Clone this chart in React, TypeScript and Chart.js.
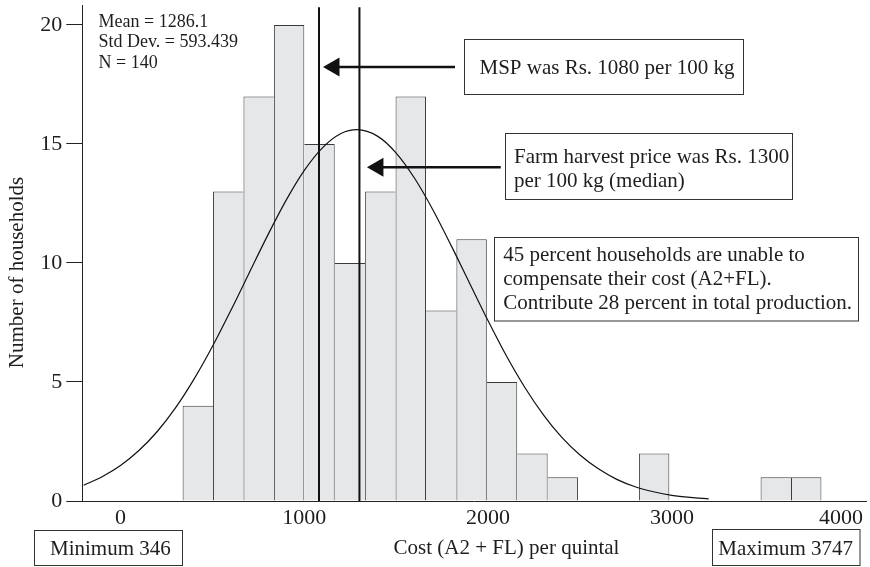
import React, { useEffect, useRef } from 'react';
import { Chart, registerables } from 'chart.js';

Chart.register(...registerables);

// ---- Data ----
const binCenters = [420.75, 586.25, 751.75, 917.25, 1082.75, 1248.25, 1413.75, 1579.25, 1744.75, 1910.25, 2075.75, 2241.25, 2406.75, 2572.25, 2737.75, 2903.25, 3068.75, 3234.25, 3399.75, 3565.25, 3730.75];
const binCounts = [4, 13, 17, 20, 15, 10, 13, 17, 8, 11, 5, 2, 1, 0, 0, 2, 0, 0, 0, 1, 1];

const curveX = [-200, -100, 0, 100, 200, 300, 400, 500, 600, 700, 800, 900, 1000, 1100, 1200, 1286, 1400, 1500, 1600, 1700, 1800, 1900, 2000, 2100, 2200, 2300, 2400, 2500, 2600, 2700, 2800, 2900, 3000, 3100, 3200];
const curveY = [0.66, 1.02, 1.49, 2.12, 2.92, 3.92, 5.12, 6.49, 8.0, 9.58, 11.15, 12.62, 13.89, 14.85, 15.44, 15.6, 15.32, 14.62, 13.56, 12.23, 10.72, 9.14, 7.57, 6.09, 4.77, 3.63, 2.68, 1.93, 1.35, 0.91, 0.6, 0.39, 0.24, 0.15, 0.09];

const mspPrice = 1080;
const harvestPrice = 1300;

const xTicks = [0, 1000, 2000, 3000, 4000];
const yTicks = [0, 5, 10, 15, 20];

const statsLines = ['Mean = 1286.1', 'Std Dev. = 593.439', 'N = 140'];
const mspText = ['MSP was Rs. 1080 per 100 kg'];
const harvestText = ['Farm harvest price was Rs. 1300', 'per 100 kg (median)'];
const noteText = ['45 percent households are unable to', 'compensate their cost (A2+FL).', 'Contribute 28 percent in total production.'];
const minText = 'Minimum 346';
const maxText = 'Maximum 3747';
const xTitle = 'Cost (A2 + FL) per quintal';
const yTitle = 'Number of households';

const FONT = '"Liberation Serif", "Times New Roman", serif';
const TEXT = '#1e1e1e';
const LINE = '#111111';

const annotPlugin = {
  id: 'annot',
  afterDraw(chart: any) {
    const ctx = chart.ctx as CanvasRenderingContext2D;
    const xs = chart.scales.x;
    ctx.save();

    // stats text
    ctx.fillStyle = TEXT;
    ctx.textBaseline = 'alphabetic';
    ctx.textAlign = 'left';
    ctx.font = `18px ${FONT}`;
    statsLines.forEach((t, i) => ctx.fillText(t, 98.5, 26.5 + i * 20.5));

    const box = (x: number, y: number, w: number, h: number) => {
      ctx.fillStyle = '#ffffff';
      ctx.fillRect(x, y, w, h);
      ctx.strokeStyle = '#333333';
      ctx.lineWidth = 1;
      ctx.strokeRect(x, y, w, h);
    };
    const lines = (arr: string[], x: number, y0: number, dy: number) => {
      ctx.fillStyle = TEXT;
      ctx.font = `21px ${FONT}`;
      ctx.textAlign = 'left';
      ctx.textBaseline = 'alphabetic';
      arr.forEach((t, i) => ctx.fillText(t, x, y0 + i * dy));
    };
    const arrow = (tipX: number, y: number, tailX: number) => {
      ctx.strokeStyle = LINE;
      ctx.fillStyle = LINE;
      ctx.lineWidth = 2.5;
      ctx.beginPath();
      ctx.moveTo(tailX, y);
      ctx.lineTo(tipX + 12, y);
      ctx.stroke();
      ctx.beginPath();
      ctx.moveTo(tipX, y);
      ctx.lineTo(tipX + 16.5, y - 9.5);
      ctx.lineTo(tipX + 16.5, y + 9.5);
      ctx.closePath();
      ctx.fill();
    };

    // MSP box + arrow
    box(464.5, 39.5, 279, 55);
    lines(mspText, 479.5, 74, 24);
    arrow(xs.getPixelForValue(mspPrice) + 4, 67, 455);

    // Harvest price box + arrow
    box(505.5, 133.5, 287, 66);
    lines(harvestText, 514, 162.7, 23.8);
    arrow(xs.getPixelForValue(harvestPrice) + 7.5, 167.3, 500.7);

    // Note box
    box(494.5, 237.5, 364, 83.5);
    lines(noteText, 503.3, 260.5, 24);

    // Min / Max boxes
    box(34.5, 530.5, 148, 35);
    lines([minText], 50, 555, 0);
    box(712.5, 529.5, 147.5, 36);
    lines([maxText], 718.3, 555, 0);

    // x axis title
    ctx.fillStyle = TEXT;
    ctx.font = `21px ${FONT}`;
    ctx.textAlign = 'center';
    ctx.textBaseline = 'alphabetic';
    ctx.fillText(xTitle, 506.5, 554);

    // last x tick label, kept inside the canvas
    ctx.font = `22px ${FONT}`;
    ctx.textAlign = 'right';
    ctx.textBaseline = 'middle';
    const lastX = xs.getPixelForValue(xTicks[xTicks.length - 1]);
    const w = ctx.measureText(String(xTicks[xTicks.length - 1])).width;
    ctx.fillText(String(xTicks[xTicks.length - 1]), Math.min(lastX + w / 2, 863), 518.2);

    // y axis title
    ctx.save();
    ctx.translate(17.5, 272.5);
    ctx.rotate(-Math.PI / 2);
    ctx.font = `21px ${FONT}`;
    ctx.textAlign = 'center';
    ctx.textBaseline = 'middle';
    ctx.fillStyle = TEXT;
    ctx.fillText(yTitle, 0, 0);
    ctx.restore();

    ctx.restore();
  },
};

export default function App() {
  const ref = useRef<HTMLCanvasElement>(null);

  useEffect(() => {
    const canvas = ref.current;
    if (!canvas) return;
    Chart.defaults.font.family = FONT;
    Chart.defaults.color = TEXT;

    const yTop = 20.75;
    const chart = new Chart(canvas, {
      type: 'bar',
      data: {
        datasets: [
          {
            type: 'line',
            data: [{ x: mspPrice, y: 0 }, { x: mspPrice, y: yTop }],
            borderColor: LINE,
            borderWidth: 2,
            pointRadius: 0,
            order: 1,
          } as any,
          {
            type: 'line',
            data: [{ x: harvestPrice, y: 0 }, { x: harvestPrice, y: yTop }],
            borderColor: LINE,
            borderWidth: 2,
            pointRadius: 0,
            order: 1,
          } as any,
          {
            type: 'line',
            data: curveX.map((x, i) => ({ x, y: curveY[i] })),
            borderColor: LINE,
            borderWidth: 1.2,
            pointRadius: 0,
            cubicInterpolationMode: 'monotone',
            order: 1,
          } as any,
          {
            type: 'bar',
            data: binCenters.map((x, i) => ({ x, y: binCounts[i] })),
            backgroundColor: '#e6e7e9',
            borderColor: '#3a3a3a',
            borderWidth: (c: any) => {
              const i = c.dataIndex;
              if (i === undefined) return 1;
              const v = binCounts[i];
              const prev = i > 0 ? binCounts[i - 1] : 0;
              const next = i < binCounts.length - 1 ? binCounts[i + 1] : 0;
              return { top: 1, left: prev <= v ? 1 : 0, right: next < v ? 1 : 0, bottom: 0 };
            },
            barPercentage: 1,
            categoryPercentage: 1,
            inflateAmount: 0,
            order: 2,
          } as any,
        ],
      },
      options: {
        animation: false,
        responsive: false,
        events: [],
        layout: { padding: { top: 5, right: 3.3, left: 0, bottom: 0 } },
        plugins: { legend: { display: false }, tooltip: { enabled: false } },
        scales: {
          x: {
            type: 'linear',
            min: -207.8,
            max: 4059.8,
            offset: false,
            grid: { display: false, drawTicks: false },
            border: { display: true, color: '#222222', width: 1 },
            ticks: {
              font: { size: 22, family: FONT },
              color: TEXT,
              padding: 4,
              maxRotation: 0,
              autoSkip: false,
              callback: (v: any) => (v === xTicks[xTicks.length - 1] ? '' : String(v)),
            },
            afterBuildTicks: (s: any) => {
              s.ticks = xTicks.map((v) => ({ value: v }));
            },
            afterFit: (s: any) => {
              s.height = 66;
              s.paddingLeft = 0;
              s.paddingRight = 0;
            },
          },
          y: {
            type: 'linear',
            min: 0,
            max: 20.84,
            grid: { display: true, drawOnChartArea: false, drawTicks: true, tickLength: 16, color: '#222222', lineWidth: 1 },
            border: { display: true, color: '#222222', width: 1 },
            ticks: { font: { size: 22, family: FONT }, color: TEXT, padding: 4 },
            afterBuildTicks: (s: any) => {
              s.ticks = yTicks.map((v) => ({ value: v }));
            },
            afterFit: (s: any) => {
              s.width = 82.3;
              s.paddingTop = 0;
              s.paddingBottom = 0;
            },
          },
        },
      } as any,
      plugins: [annotPlugin],
    });
    return () => chart.destroy();
  }, []);

  return (
    <div style={{ position: 'fixed', left: 0, top: 0, width: 870, height: 567, background: '#ffffff' }}>
      <canvas ref={ref} width={870} height={567} style={{ display: 'block', width: 870, height: 567 }} />
    </div>
  );
}
